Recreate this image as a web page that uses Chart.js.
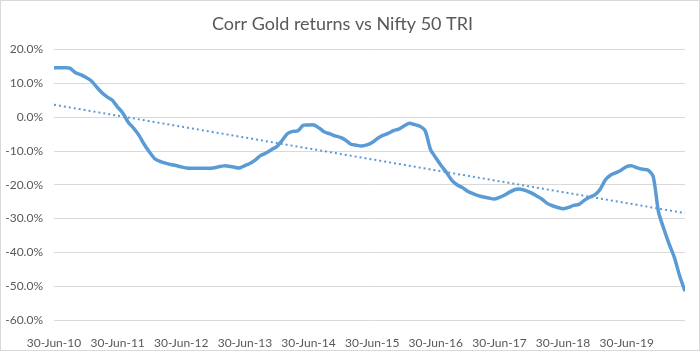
<!DOCTYPE html>
<html>
<head>
<meta charset="utf-8">
<script src="https://cdn.jsdelivr.net/npm/chart.js@4/dist/chart.umd.min.js"></script>
<style>
  body { margin: 0; background: #fff; }
  #wrap { width: 700px; height: 351px; position: relative; }
</style>
</head>
<body>
<div id="wrap"><canvas id="corrChart" width="700" height="351"></canvas></div>
<script>
// Year tick labels (one every 12 months)
const yearLabels = ['30-Jun-10', '30-Jun-11', '30-Jun-12', '30-Jun-13', '30-Jun-14',
    '30-Jun-15', '30-Jun-16', '30-Jun-17', '30-Jun-18', '30-Jun-19'];

// Rolling correlation of gold returns vs Nifty 50 TRI, monthly, in %
const corrValues = [
    14.6, 14.6, 14.6, 14.5, 13.2, 12.6, 11.8, 10.8, 9.0, 7.3, 6.0, 5.0,
    3.0, 1.2, -1.5, -3.2, -5.3, -8.0, -10.3, -12.3, -13.1, -13.6, -14.0, -14.3,
    -14.7, -15.0, -15.1, -15.1, -15.1, -15.1, -15.0, -14.7, -14.4, -14.5, -14.8, -15.0,
    -14.3, -13.6, -12.6, -11.3, -10.6, -9.6, -8.7, -6.9, -4.9, -4.2, -4.0, -2.4,
    -2.3, -2.3, -3.2, -4.4, -4.9, -5.5, -6.0, -6.8, -8.0, -8.3, -8.5, -8.2,
    -7.5, -6.3, -5.4, -4.8, -4.0, -3.5, -2.6, -1.8, -2.2, -2.7, -4.0, -9.5,
    -12.0, -14.3, -16.3, -18.6, -20.0, -20.8, -21.9, -22.6, -23.2, -23.6, -23.9, -24.2,
    -23.7, -23.0, -22.1, -21.4, -21.3, -21.7, -22.4, -23.3, -24.2, -25.5, -26.2, -26.7,
    -27.1, -26.7, -26.1, -25.8, -24.6, -23.7, -23.0, -21.3, -18.5, -17.1, -16.4, -15.6,
    -14.6, -14.4, -15.0, -15.4, -15.6, -17.5, -28.0, -33.0, -37.5, -41.5, -47.0, -51.5
];

// Y axis range (%)
const yMin = -60, yMax = 20, yStep = 10;

const corrPoints = corrValues.map((v, i) => ({ x: i, y: v }));

// Linear trendline (least squares), like Excel's
const n = corrValues.length;
const meanX = (n - 1) / 2;
const meanY = corrValues.reduce((a, b) => a + b, 0) / n;
let sxy = 0, sxx = 0;
corrValues.forEach((v, i) => { sxy += (i - meanX) * (v - meanY); sxx += (i - meanX) * (i - meanX); });
const slope = sxy / sxx;
const intercept = meanY - slope * meanX;
const trendPoints = [{ x: 0, y: intercept }, { x: n - 1, y: intercept + slope * (n - 1) }];

const chartBorder = {
    id: 'chartBorder',
    afterDraw(chart) {
        const ctx = chart.ctx;
        ctx.save();
        ctx.strokeStyle = '#d9d9d9';
        ctx.lineWidth = 1;
        ctx.strokeRect(0.5, 0.5, chart.width - 1, chart.height - 1);
        ctx.restore();
    }
};

const corrCtx = document.getElementById('corrChart').getContext('2d');
const corrChart = new Chart(corrCtx, {
    type: 'line',
    data: {
        datasets: [{
            label: 'Correlation',
            data: corrPoints,
            borderColor: '#5B9BD5',
            borderWidth: 3.5,
            pointRadius: 0,
            tension: 0.25,
            fill: false
        }, {
            label: 'Linear trend',
            data: trendPoints,
            borderColor: '#5B9BD5',
            borderWidth: 2,
            borderDash: [2, 3],
            pointRadius: 0,
            fill: false
        }]
    },
    options: {
        responsive: false,
        animation: false,
        layout: { padding: { left: 0, right: 15, top: 0, bottom: 0 } },
        plugins: {
            legend: { display: false },
            tooltip: { enabled: false },
            title: {
                display: true,
                text: 'Corr Gold returns vs Nifty 50 TRI',
                color: '#595959',
                font: { family: 'Lato', size: 18, weight: 'normal' },
                padding: { top: 13, bottom: 15 }
            }
        },
        scales: {
            x: {
                type: 'linear',
                min: 0,
                max: n - 1,
                grid: { display: false },
                border: { display: false },
                afterBuildTicks: (scale) => {
                    scale.ticks = yearLabels.map((_, i) => ({ value: i * 12 }));
                },
                afterFit: (scale) => { scale.height = 31; },
                ticks: {
                    color: '#595959',
                    font: { family: 'Lato', size: 12 },
                    maxRotation: 0,
                    autoSkip: false,
                    padding: 8,
                    callback: (value) => yearLabels[Math.round(value / 12)]
                }
            },
            y: {
                min: yMin,
                max: yMax,
                grid: { color: '#d9d9d9', drawTicks: false },
                border: { display: false },
                afterFit: (scale) => { scale.width = 54; },
                ticks: {
                    stepSize: yStep,
                    color: '#595959',
                    font: { family: 'Lato', size: 12 },
                    padding: 11,
                    callback: (value) => value.toFixed(1) + '%'
                }
            }
        }
    },
    plugins: [chartBorder]
});
</script>
</body>
</html>
